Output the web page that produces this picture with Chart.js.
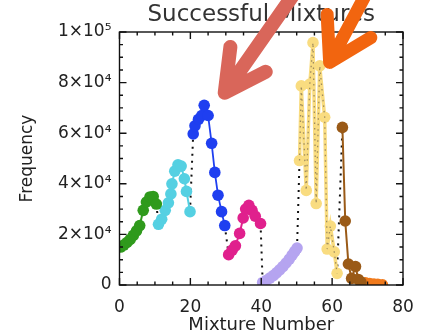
<!DOCTYPE html>
<html>
<head>
<meta charset="utf-8">
<script src="https://cdn.jsdelivr.net/npm/chart.js@4/dist/chart.umd.min.js"></script>
<style>
  html, body { margin: 0; padding: 0; background: #fff; }
</style>
</head>
<body>
<canvas id="chart" width="427" height="334"></canvas>
<script>
// Mixture runs: mixture number (x) and frequency (y) per group
const greenX = [0.3, 1.2, 2.1, 3.0, 3.9, 4.8, 5.7, 6.7, 7.6, 8.6, 9.5, 10.4];
const greenY = [15000, 15800, 16800, 18000, 19600, 21400, 23500, 29500, 32800, 34800, 35000, 32000];

const cyanX = [11.0, 11.9, 12.9, 13.8, 14.5, 14.8, 15.6, 16.5, 17.4, 18.3, 18.9, 19.9];
const cyanY = [24000, 26000, 29500, 32500, 36000, 40000, 45000, 47500, 47000, 42000, 37000, 29000];

const blueX = [20.8, 21.3, 22.3, 23.2, 23.9, 25.0, 26.0, 26.9, 27.8, 28.8, 29.7];
const blueY = [59700, 62900, 65500, 67000, 71000, 67000, 56000, 44500, 35500, 29000, 23500];

const magentaX = [30.8, 31.8, 32.7, 33.9, 34.9, 35.6, 36.5, 37.4, 38.3, 39.8];
const magentaY = [12000, 13800, 15500, 20400, 26500, 30000, 31500, 29500, 27200, 24300];

const lavenderX = [40.4, 41.4, 42.4, 43.4, 44.3, 45.2, 46.1, 47.0, 47.9, 48.7, 49.4, 50.1];
const lavenderY = [1000, 1800, 2700, 3700, 4800, 6000, 7300, 8700, 10200, 11800, 13200, 14600];

const yellowX = [50.8, 51.3, 52.7, 53.7, 54.6, 55.5, 56.5, 57.9, 58.6, 59.5, 60.6, 61.4];
const yellowY = [49200, 78700, 37400, 79400, 95800, 32200, 86600, 66300, 14200, 23300, 13100, 4600];

const brownX = [62.9, 63.7, 64.6, 65.5, 66.6, 67.4, 68.1];
const brownY = [62300, 25300, 8300, 2600, 7300, 2200, 1200];

const orangeX = [69.4, 70.6, 71.8, 72.9, 74.2];
const orangeY = [900, 600, 400, 250, 100];

// Axis ranges and tick steps
const xRange = [0, 80];
const yRange = [0, 100000];
const xMajor = 20, xMinor = 5;
const yMajor = 20000, yMinor = 5000;

const zip = (xs, ys) => xs.map((x, i) => ({ x, y: ys[i] }));

const groups = [
  { x: greenX,    y: greenY,    color: '#2f9a1c', line: 2 },
  { x: cyanX,     y: cyanY,     color: '#55d0e2', line: 2 },
  { x: blueX,     y: blueY,     color: '#1f3ff0', line: 1.8 },
  { x: magentaX,  y: magentaY,  color: '#e0208d', line: 2 },
  { x: lavenderX, y: lavenderY, color: '#b5a4f0', line: 2 },
  { x: yellowX,   y: yellowY,   color: '#f9dc80', line: 3.5 },
  { x: brownX,    y: brownY,    color: '#9a5a17', line: 2 },
  { x: orangeX,   y: orangeY,   color: '#f07a1c', line: 2 }
];

const datasets = groups.map(g => ({
  data: zip(g.x, g.y),
  borderColor: g.color,
  backgroundColor: g.color,
  pointBackgroundColor: g.color,
  pointBorderColor: g.color,
  borderWidth: g.line,
  pointRadius: 5.8,
  pointBorderWidth: 0,
  tension: 0,
  order: 2
}));

// dotted grey trace along the yellow run
datasets.push({
  data: zip(yellowX, yellowY),
  borderColor: 'rgba(120,105,80,0.7)',
  borderWidth: 1.3,
  borderDash: [1.5, 4],
  pointRadius: 0,
  order: 1
});

// dotted black joins between consecutive runs
const joins = [];
for (let i = 0; i < groups.length - 1; i++) {
  const a = groups[i], b = groups[i + 1];
  joins.push({ x: a.x[a.x.length - 1], y: a.y[a.y.length - 1] });
  joins.push({ x: b.x[0], y: b.y[0] });
  joins.push({ x: b.x[0], y: null });
}
datasets.push({
  data: joins,
  borderColor: '#111',
  borderWidth: 2,
  borderDash: [2, 5],
  pointRadius: 0,
  spanGaps: false,
  order: 5
});

const SUP = '⁰¹²³⁴⁵⁶⁷⁸⁹';
function sciLabel(v) {
  if (v === 0) return '0';
  const e = Math.floor(Math.log10(v) + 1e-9);
  const m = Math.round(v / Math.pow(10, e));
  return m + '×10' + String(e).split('').map(d => SUP[+d]).join('');
}

// box frame with inward ticks on all four sides
const framePlugin = {
  id: 'frame',
  afterDatasetsDraw(chart) {
    const { ctx, chartArea: { left, right, top, bottom }, scales: { x, y } } = chart;
    ctx.save();
    ctx.strokeStyle = '#111';
    ctx.lineWidth = 1.4;
    ctx.strokeRect(left, top, right - left, bottom - top);
    ctx.beginPath();
    for (let v = xRange[0]; v <= xRange[1]; v += xMinor) {
      const px = x.getPixelForValue(v);
      const len = v % xMajor === 0 ? 7 : 3.5;
      ctx.moveTo(px, bottom); ctx.lineTo(px, bottom - len);
      ctx.moveTo(px, top); ctx.lineTo(px, top + len);
    }
    for (let v = yRange[0]; v <= yRange[1]; v += yMinor) {
      const py = y.getPixelForValue(v);
      const len = v % yMajor === 0 ? 7 : 3.5;
      ctx.moveTo(left, py); ctx.lineTo(left + len, py);
      ctx.moveTo(right, py); ctx.lineTo(right - len, py);
    }
    ctx.stroke();
    ctx.restore();
  }
};

// pointer arrows aimed at the two peaks (tip in data units, angles in degrees)
const pointers = [
  { tip: [29.7, 76000], shaft: -55, spread: 28, shaftLen: 120, wingLen: 46, width: 14, color: '#d9665a' },
  { tip: [59.3, 88000], shaft: -62, spread: 31, shaftLen: 82,  wingLen: 48, width: 13, color: '#f2650f' }
];
const arrowPlugin = {
  id: 'arrows',
  afterDraw(chart) {
    const { ctx, scales: { x, y } } = chart;
    ctx.save();
    ctx.lineCap = 'round';
    ctx.lineJoin = 'round';
    pointers.forEach(p => {
      const tx = x.getPixelForValue(p.tip[0]);
      const ty = y.getPixelForValue(p.tip[1]);
      const end = (deg, len) => {
        const r = deg * Math.PI / 180;
        return [tx + Math.cos(r) * len, ty + Math.sin(r) * len];
      };
      const s = end(p.shaft, p.shaftLen);
      const w1 = end(p.shaft - p.spread, p.wingLen);
      const w2 = end(p.shaft + p.spread, p.wingLen);
      ctx.strokeStyle = p.color;
      ctx.lineWidth = p.width;
      ctx.beginPath();
      ctx.moveTo(w1[0], w1[1]);
      ctx.lineTo(tx, ty);
      ctx.lineTo(w2[0], w2[1]);
      ctx.moveTo(tx, ty);
      ctx.lineTo(s[0], s[1]);
      ctx.stroke();
    });
    ctx.restore();
  }
};

const FONT = 'DejaVu Sans';

new Chart(document.getElementById('chart'), {
  type: 'line',
  data: { datasets },
  options: {
    responsive: false,
    animation: false,
    devicePixelRatio: 1,
    layout: { padding: { left: 0, right: 24, top: 0, bottom: 0 } },
    plugins: {
      legend: { display: false },
      tooltip: { enabled: false },
      title: {
        display: true,
        text: 'Successful Mixtures',
        fullSize: false,
        color: '#333',
        font: { family: FONT, size: 23, weight: 'normal', lineHeight: 1 },
        padding: { top: 4, bottom: 5 }
      }
    },
    scales: {
      x: {
        type: 'linear',
        min: xRange[0],
        max: xRange[1],
        afterFit(s) { s.height = 49; },
        grid: { display: false, drawTicks: false },
        border: { display: false },
        ticks: {
          stepSize: xMajor,
          padding: 12,
          maxRotation: 0,
          color: '#222',
          font: { family: FONT, size: 17 }
        },
        title: {
          display: true,
          text: 'Mixture Number',
          color: '#222',
          font: { family: FONT, size: 18, lineHeight: 1 },
          padding: 0
        }
      },
      y: {
        type: 'linear',
        min: yRange[0],
        max: yRange[1],
        afterFit(s) { s.width = 119.5; },
        grid: { display: false, drawTicks: false },
        border: { display: false },
        ticks: {
          stepSize: yMajor,
          padding: 8,
          color: '#222',
          font: { family: FONT, size: 17 },
          callback: v => sciLabel(v)
        },
        title: {
          display: true,
          text: 'Frequency',
          color: '#222',
          font: { family: FONT, size: 17 },
          padding: { top: 17, bottom: 0 }
        }
      }
    }
  },
  plugins: [framePlugin, arrowPlugin]
});
</script>
</body>
</html>
